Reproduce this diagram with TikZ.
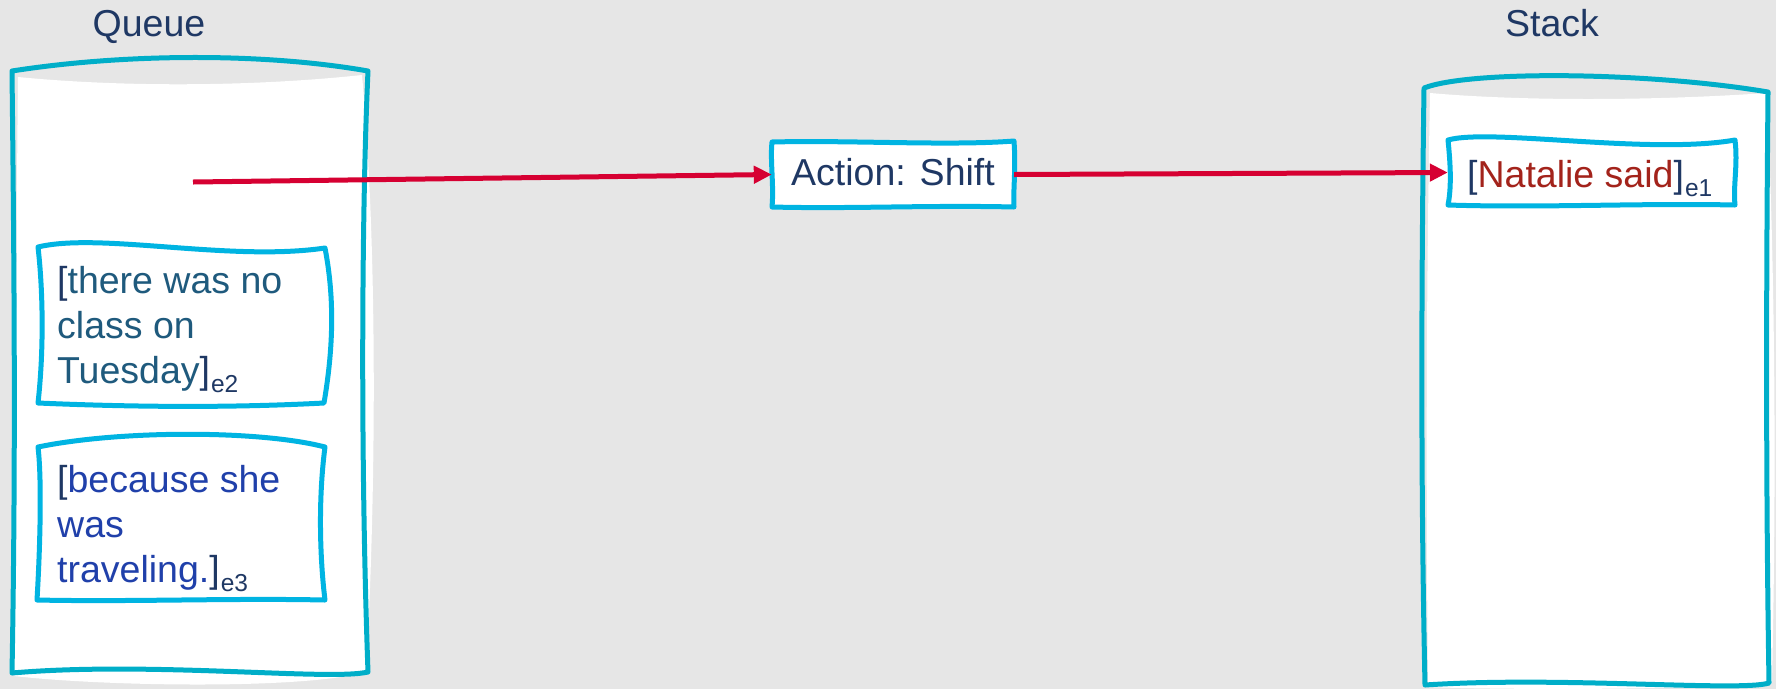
\documentclass[tikz,border=0pt]{standalone}
\usepackage{fontspec}
\setmainfont{Liberation Sans}
\usetikzlibrary{arrows.meta}
\definecolor{canvas}{HTML}{E6E6E6}
\definecolor{framecyan}{HTML}{00AEC8}
\definecolor{cardcyan}{HTML}{00B4E2}
\definecolor{pushred}{HTML}{D60032}
\definecolor{navy}{HTML}{1F3864}
\definecolor{tealtext}{HTML}{1F5A7D}
\definecolor{bluetext}{HTML}{2040AA}
\definecolor{redtext}{HTML}{A3231B}
% lowered small label after a closing bracket
\newcommand\subtag[1]{\kern1pt\raisebox{-9pt}{\fontsize{24.5}{24.5}\selectfont #1}}
\begin{document}
\begin{tikzpicture}[x=1pt,y=-1pt,
  frame/.style={draw=framecyan, line width=5pt, line join=round},
  card/.style={draw=cardcyan, line width=5pt, line join=round, fill=white},
  push/.style={draw=pushred, line width=5pt, -{Triangle[length=18pt,width=17pt]}},
  lbl/.style={inner sep=0pt, font=\fontsize{37.5}{45}\selectfont, anchor=base west},
  title/.style={inner sep=0pt, font=\fontsize{37.5}{45}\selectfont, anchor=base, text=navy},
  slot/.style={inner sep=0pt, minimum width=#1}]
\useasboundingbox (0,0) rectangle (1776,689);
\fill[canvas] (0,0) rectangle (1776,689);

% column titles
\node[title] (qtitle) at (149,36) {Queue};
\node[title] (stitle) at (1552,36) {Stack};

% queue column
\fill[white] (18,77) .. controls (120,87) and (250,87) .. (362,75)
  .. controls (378,250) and (376,500) .. (366,672)
  .. controls (300,690) and (100,686) .. (14,676)
  .. controls (16,450) and (16,250) .. cycle;
\draw[frame] (12,71) .. controls (120,54) and (260,52) .. (368,71)
  .. controls (362,200) and (360,450) .. (368,672)
  .. controls (330,681) and (150,661) .. (12,673)
  .. controls (16,450) and (14,250) .. cycle;

% stack column
\fill[white] (1430,93) .. controls (1520,101) and (1650,101) .. (1767,93)
  .. controls (1776,300) and (1776,500) .. (1772,683)
  .. controls (1700,690) and (1500,690) .. (1428,687)
  .. controls (1426,500) and (1426,300) .. cycle;
\draw[frame] (1424,88) .. controls (1470,70) and (1650,72) .. (1768,92)
  .. controls (1766,300) and (1766,500) .. (1769,683)
  .. controls (1740,692) and (1560,676) .. (1425,685)
  .. controls (1421,500) and (1421,300) .. cycle;

% queue cards
\draw[card] (38,247) .. controls (100,232) and (230,262) .. (325,248)
  .. controls (335,300) and (333,350) .. (324,403)
  .. controls (230,408) and (130,407) .. (38,403)
  .. controls (44,350) and (43,290) .. cycle;
\node[lbl] (e2) at (57,293) {\parbox[t]{270pt}{\raggedright
  \textcolor{navy}{[}\textcolor{tealtext}{there was no\\class on\\Tuesday}\textcolor{navy}{]\subtag{e2}}}};

\draw[card] (38,447) .. controls (120,430) and (260,430) .. (325,447)
  .. controls (318,500) and (320,560) .. (325,600)
  .. controls (230,598) and (130,602) .. (37,600)
  .. controls (40,550) and (42,480) .. cycle;
\node[lbl] (e3) at (57,492) {\parbox[t]{270pt}{\raggedright
  \textcolor{navy}{[}\textcolor{bluetext}{because she\\was\\traveling.}\textcolor{navy}{]\subtag{e3}}}};

% action card
\node[slot=242pt, minimum height=65pt] (action) at (893,174.5) {};
\draw[card] (772,142) .. controls (850,140) and (950,146) .. (1014,141)
  .. controls (1016,170) and (1013,190) .. (1014,207)
  .. controls (930,205) and (850,209) .. (772,207)
  .. controls (774,185) and (770,160) .. cycle;
\node[lbl, anchor=base, text=navy] (actiontext) at (893,185) {Action: Shift};

% stack card
\node[slot=287pt, minimum height=65pt] (e1box) at (1591.5,172.5) {};
\draw[card] (1448,140) .. controls (1490,128) and (1650,155) .. (1735,140)
  .. controls (1738,165) and (1733,185) .. (1735,205)
  .. controls (1640,203) and (1540,208) .. (1448,205)
  .. controls (1452,185) and (1450,160) .. cycle;
\node[lbl] (e1) at (1467,187) {\textcolor{navy}{[}\textcolor{redtext}{Natalie said}\textcolor{navy}{]\subtag{e1}}};

% shift arrows
\coordinate (qhead) at (193,182);
\draw[push] (qhead) -- (action.west);
\draw[push] (action.east) -- (e1box.west);
\end{tikzpicture}
\end{document}
